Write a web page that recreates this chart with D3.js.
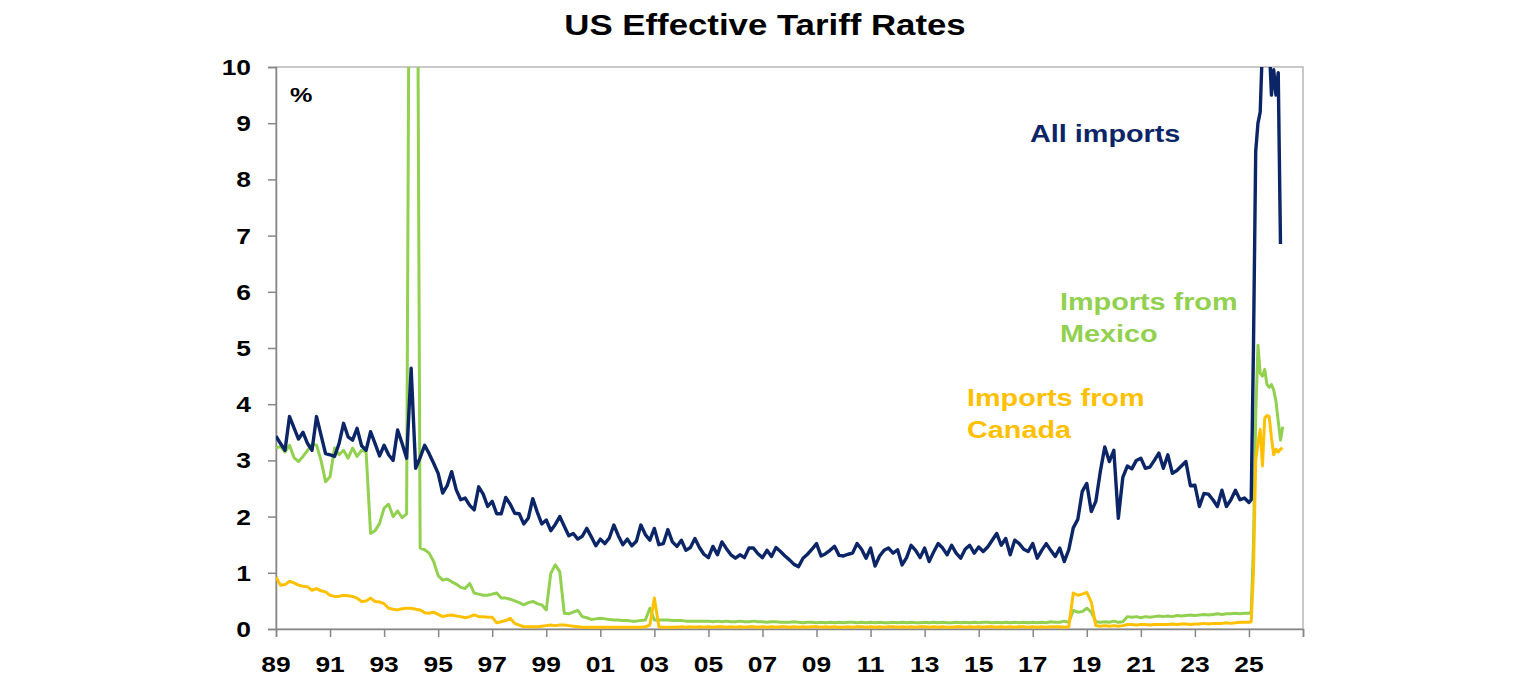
<html>
<head>
  <meta charset="utf-8">
  <title>US Effective Tariff Rates</title>
  <script src="https://cdnjs.cloudflare.com/ajax/libs/d3/7.8.5/d3.min.js"></script>
  <style>
    body { margin: 0; background: #fff; }
    text { font-family: "Liberation Sans", Arial, sans-serif; font-weight: bold; }
  </style>
</head>
<body>
  <div id="viz"></div>
  <script type="text/javascript">
      // bi-monthly readings from Jan 1989 to Nov 2024 (6 per year)
      var allImports = [
          3.43, 3.3, 3.18, 3.78, 3.58, 3.38,
          3.5, 3.3, 3.18, 3.78, 3.45, 3.12,
          3.1, 3.07, 3.3, 3.66, 3.42, 3.36,
          3.57, 3.26, 3.18, 3.51, 3.3, 3.08,
          3.27, 3.1, 3.0, 3.54, 3.3, 3.04,
          4.64, 2.86, 3.05, 3.27, 3.12, 2.95,
          2.77, 2.42, 2.55, 2.8, 2.48, 2.3,
          2.33, 2.2, 2.12, 2.53, 2.4, 2.18,
          2.27, 2.05, 2.05, 2.34, 2.22, 2.06,
          2.05, 1.87, 1.97, 2.32, 2.08, 1.87,
          1.94, 1.75, 1.86, 2.0, 1.83, 1.66,
          1.7, 1.6, 1.65, 1.79, 1.64, 1.48,
          1.6, 1.52, 1.62, 1.85, 1.66, 1.5,
          1.6, 1.48, 1.56, 1.85, 1.68, 1.58,
          1.79, 1.5, 1.52, 1.77, 1.55, 1.47,
          1.58, 1.4, 1.45, 1.61, 1.45, 1.33,
          1.27, 1.47, 1.32, 1.55, 1.43, 1.32,
          1.26, 1.32, 1.27, 1.44, 1.44, 1.34,
          1.27, 1.4, 1.29, 1.45, 1.38, 1.3,
          1.23, 1.15, 1.11, 1.26, 1.33, 1.42,
          1.52, 1.3, 1.34, 1.4, 1.47, 1.31,
          1.3, 1.33, 1.35, 1.52, 1.42, 1.26,
          1.44, 1.12, 1.3, 1.4, 1.44, 1.35,
          1.41, 1.14, 1.27, 1.49, 1.4, 1.27,
          1.44, 1.2, 1.37, 1.52, 1.44, 1.32,
          1.49, 1.35, 1.26, 1.42, 1.49, 1.35,
          1.46, 1.38, 1.46, 1.58, 1.7, 1.49,
          1.61, 1.32, 1.58, 1.52, 1.42, 1.38,
          1.52, 1.26, 1.4, 1.52, 1.4, 1.29,
          1.44, 1.2, 1.41, 1.8, 1.95, 2.45,
          2.59, 2.09, 2.27, 2.8, 3.24, 2.98,
          3.18, 1.97, 2.7, 2.9, 2.85, 3.0,
          3.04, 2.86, 2.88, 3.0, 3.13, 2.86,
          3.1, 2.77, 2.82, 2.9, 2.98, 2.55,
          2.56, 2.18, 2.41, 2.4, 2.3, 2.18,
          2.47, 2.18, 2.3, 2.47, 2.3, 2.33
      ];
      var mexico = [
          3.22, 3.25, 3.15, 3.27, 3.05, 2.98,
          3.07, 3.18, 3.29, 3.27, 3.0, 2.62,
          2.71, 3.22, 3.1, 3.18, 3.04, 3.22,
          3.07, 3.18, 3.15, 1.7, 1.75, 1.88,
          2.15, 2.22, 2.0, 2.1, 1.98, 2.05,
          20, 20, 1.44, 1.41, 1.35, 1.2,
          0.95, 0.87, 0.89, 0.84, 0.8, 0.74,
          0.72, 0.81, 0.64, 0.62, 0.6, 0.6,
          0.62, 0.64, 0.55, 0.55, 0.53, 0.5,
          0.47, 0.43, 0.47, 0.49, 0.45, 0.43,
          0.34, 0.99, 1.14, 1.02, 0.28, 0.27,
          0.3, 0.33, 0.22, 0.2, 0.17, 0.18,
          0.19, 0.18, 0.17, 0.16, 0.16, 0.15,
          0.15, 0.14, 0.14, 0.15, 0.16, 0.37,
          0.16, 0.16, 0.16, 0.16, 0.15, 0.15,
          0.15, 0.14, 0.14, 0.14, 0.14, 0.14,
          0.14, 0.13, 0.14, 0.13, 0.14, 0.13,
          0.13, 0.14, 0.13, 0.13, 0.14, 0.13,
          0.13, 0.12, 0.13, 0.13, 0.12, 0.12,
          0.12, 0.13, 0.12, 0.11, 0.12, 0.12,
          0.11, 0.12, 0.11, 0.12, 0.11, 0.12,
          0.11, 0.12, 0.12, 0.11, 0.12, 0.11,
          0.12, 0.11, 0.12, 0.11, 0.11, 0.12,
          0.11, 0.12, 0.11, 0.12, 0.11, 0.11,
          0.12, 0.11, 0.12, 0.11, 0.12, 0.11,
          0.11, 0.12, 0.11, 0.12, 0.11, 0.12,
          0.11, 0.12, 0.12, 0.11, 0.12, 0.11,
          0.12, 0.11, 0.12, 0.11, 0.12, 0.11,
          0.12, 0.11, 0.12, 0.11, 0.13, 0.12,
          0.12, 0.14, 0.12, 0.33, 0.3, 0.31,
          0.37, 0.3, 0.13, 0.12, 0.13, 0.12,
          0.14, 0.12, 0.13, 0.22, 0.21, 0.22,
          0.2, 0.22, 0.21, 0.22, 0.23, 0.22,
          0.23, 0.22, 0.24, 0.23, 0.24, 0.25,
          0.24, 0.25, 0.26, 0.25, 0.26, 0.27,
          0.26, 0.27, 0.27, 0.28, 0.27, 0.28
      ];
      var canada = [
          0.92, 0.78, 0.79, 0.85, 0.82, 0.78,
          0.76, 0.75, 0.69, 0.72, 0.68, 0.66,
          0.6, 0.58, 0.58, 0.6, 0.59, 0.58,
          0.55, 0.49, 0.5, 0.55, 0.49, 0.48,
          0.45, 0.37, 0.35, 0.34, 0.36, 0.37,
          0.37, 0.35, 0.34, 0.29, 0.28, 0.3,
          0.26, 0.22, 0.24, 0.25, 0.23, 0.22,
          0.2, 0.22, 0.25, 0.22, 0.22, 0.21,
          0.21, 0.11, 0.13, 0.15, 0.19, 0.1,
          0.07, 0.04, 0.04, 0.04, 0.04, 0.05,
          0.06, 0.07, 0.06, 0.07, 0.07, 0.06,
          0.05, 0.04, 0.03, 0.03, 0.03, 0.03,
          0.03, 0.03, 0.03, 0.03, 0.03, 0.03,
          0.03, 0.03, 0.03, 0.03, 0.04, 0.07,
          0.55, 0.04, 0.03, 0.03, 0.03, 0.03,
          0.04, 0.03, 0.04, 0.03, 0.04, 0.03,
          0.04, 0.03, 0.04, 0.04, 0.03, 0.04,
          0.03, 0.04, 0.03, 0.04, 0.04, 0.03,
          0.04, 0.03, 0.04, 0.03, 0.04, 0.04,
          0.03, 0.04, 0.03, 0.04, 0.03, 0.04,
          0.04, 0.03, 0.04, 0.03, 0.04, 0.03,
          0.03, 0.04, 0.03, 0.04, 0.04, 0.03,
          0.04, 0.03, 0.04, 0.03, 0.04, 0.04,
          0.03, 0.04, 0.03, 0.04, 0.03, 0.04,
          0.04, 0.03, 0.04, 0.03, 0.04, 0.03,
          0.03, 0.04, 0.04, 0.03, 0.04, 0.03,
          0.04, 0.03, 0.04, 0.04, 0.03, 0.04,
          0.03, 0.04, 0.03, 0.04, 0.04, 0.03,
          0.04, 0.03, 0.04, 0.03, 0.04, 0.04,
          0.04, 0.03, 0.04, 0.64, 0.6, 0.62,
          0.65, 0.48, 0.06, 0.05, 0.06, 0.05,
          0.06, 0.05, 0.06, 0.08, 0.08, 0.07,
          0.08, 0.08, 0.07, 0.08, 0.08, 0.08,
          0.08, 0.09, 0.08, 0.09, 0.09, 0.08,
          0.09, 0.09, 0.1, 0.09, 0.1, 0.1,
          0.1, 0.11, 0.1, 0.11, 0.12, 0.12
      ];
      // monthly readings from Jan 2025
      var allImportsTail = [2.25, 2.3, 5.0, 8.5, 9.0, 9.2, 10.4, 11.0, 11.2, 10.4, 9.5, 9.95, 9.5, 9.9, 6.85];
      var mexicoTail = [0.28, 0.3, 1.5, 3.8, 5.05, 4.55, 4.5, 4.62, 4.35, 4.3, 4.35, 4.25, 4.05, 3.7, 3.36, 3.6];
      var canadaTail = [0.12, 0.13, 1.0, 3.0, 3.3, 3.55, 2.9, 3.75, 3.8, 3.78, 3.4, 3.1, 3.2, 3.15, 3.2, 3.22];

      var xTickYears = [1989, 1991, 1993, 1995, 1997, 1999, 2001, 2003, 2005, 2007, 2009,
                        2011, 2013, 2015, 2017, 2019, 2021, 2023, 2025, 2027];
      var xTickLabels = ["89", "91", "93", "95", "97", "99", "01", "03", "05", "07", "09",
                         "11", "13", "15", "17", "19", "21", "23", "25", ""];
      var yTicks = [0, 1, 2, 3, 4, 5, 6, 7, 8, 9, 10];

      var width = 1536,
          height = 680,
          plotL = 276, plotR = 1303, plotT = 67, plotB = 629,
          stretch = 1.2;   // the original picture is stretched sideways

      var colNavy = "#0b2566", colGreen = "#92d050", colGold = "#ffc000", colAxis = "#868686";

      var svg = d3.select("#viz").append("svg")
          .attr("width", width)
          .attr("height", height);

      var x = d3.scaleLinear().domain([1989, 2027]).range([plotL, plotR]);
      var y = d3.scaleLinear().domain([0, 10]).range([plotB, plotT]);

      function toPoints(main, tail) {
          var pts = main.map(function (v, i) { return [1989 + i / 6, v]; });
          tail.forEach(function (v, i) { pts.push([2025 + i / 12, v]); });
          return pts;
      }

      function addText(px, py, str, size, color, anchor) {
          return svg.append("text")
              .attr("transform", "translate(" + px + "," + py + ") scale(" + stretch + ",1)")
              .attr("text-anchor", anchor || "start")
              .style("font-size", size + "px")
              .style("fill", color || "#000")
              .text(str);
      }

      // plot frame
      svg.append("rect")
          .attr("x", plotL).attr("y", plotT)
          .attr("width", plotR - plotL).attr("height", plotB - plotT)
          .style("fill", "none")
          .style("stroke", "#a6a6a6")
          .style("stroke-width", 1.2);

      // axes
      svg.append("g")
          .attr("transform", "translate(" + plotL + ",0)")
          .call(d3.axisLeft(y).tickValues(yTicks).tickSize(8).tickFormat(""));
      svg.append("g")
          .attr("transform", "translate(0," + plotB + ")")
          .call(d3.axisBottom(x).tickValues(xTickYears).tickSize(8).tickFormat(""));
      svg.selectAll(".domain").style("stroke", colAxis).style("stroke-width", 1.5);
      svg.selectAll(".tick line").style("stroke", colAxis).style("stroke-width", 1.5);

      yTicks.forEach(function (t) {
          addText(251, y(t) + 8, String(t), 22, "#000", "end");
      });
      xTickYears.forEach(function (t, i) {
          addText(x(t), 672, xTickLabels[i], 22, "#000", "middle");
      });

      // lines
      svg.append("clipPath").attr("id", "plotclip")
          .append("rect")
          .attr("x", plotL).attr("y", plotT)
          .attr("width", plotR - plotL).attr("height", plotB - plotT);

      var line = d3.line()
          .x(function (d) { return x(d[0]); })
          .y(function (d) { return y(d[1]); });

      var series = [
          { pts: toPoints(mexico, mexicoTail), color: colGreen, w: 3 },
          { pts: toPoints(canada, canadaTail), color: colGold, w: 3 },
          { pts: toPoints(allImports, allImportsTail), color: colNavy, w: 3.4 }
      ];
      svg.append("g").attr("clip-path", "url(#plotclip)")
          .selectAll("path")
          .data(series)
          .enter()
          .append("path")
          .attr("d", function (d) { return line(d.pts); })
          .style("fill", "none")
          .style("stroke", function (d) { return d.color; })
          .style("stroke-width", function (d) { return d.w; })
          .style("stroke-linejoin", "round");

      // title and labels
      addText(765, 35, "US Effective Tariff Rates", 29, "#000", "middle");
      addText(290, 102, "%", 21, "#000");
      addText(1030, 142, "All imports", 24, colNavy);
      addText(1060, 310, "Imports from", 24, colGreen);
      addText(1060, 342, "Mexico", 24, colGreen);
      addText(967, 406, "Imports from", 24, colGold);
      addText(967, 438, "Canada", 24, colGold);
  </script>
</body>
</html>
